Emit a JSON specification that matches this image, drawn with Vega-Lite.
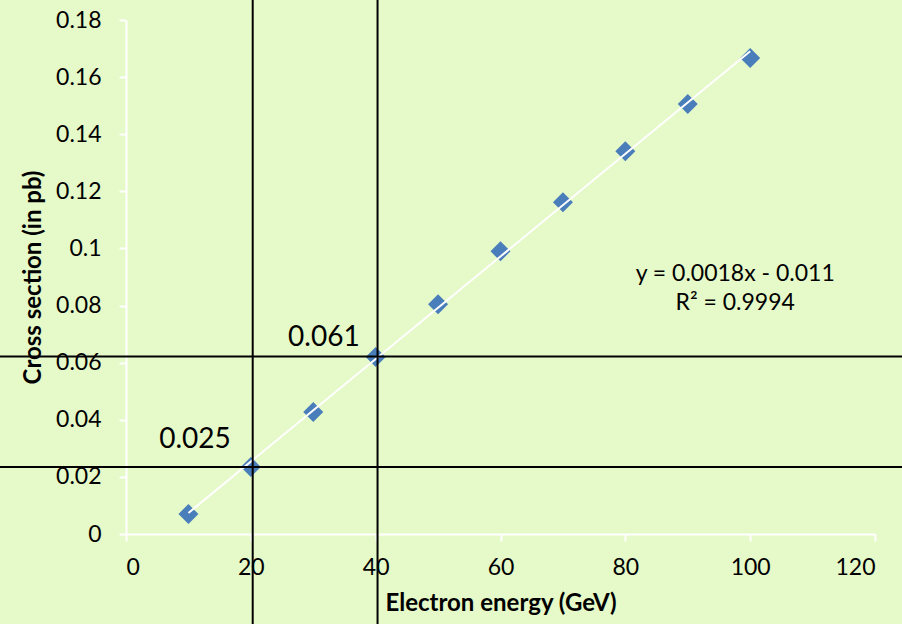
{
  "$schema": "https://vega.github.io/schema/vega-lite/v6.json",
  "autosize": "none",
  "width": 749,
  "height": 514,
  "padding": {"left": 126, "top": 20, "right": 27, "bottom": 90},
  "background": "#e6f9c8",
  "config": {
    "view": {"stroke": null},
    "font": "Lato",
    "axis": {
      "domainColor": "white",
      "domainWidth": 2,
      "tickColor": "white",
      "tickWidth": 2,
      "tickSize": 7,
      "grid": false,
      "labelFont": "Lato",
      "labelFontSize": 23,
      "labelColor": "black",
      "titleFont": "Lato",
      "titleFontSize": 24,
      "titleFontWeight": "bold",
      "titleColor": "black"
    }
  },
  "datasets": {
    "points": [
      {"energy": 10, "cs": 0.0070},
      {"energy": 20, "cs": 0.0235},
      {"energy": 30, "cs": 0.0427},
      {"energy": 40, "cs": 0.0620},
      {"energy": 50, "cs": 0.0805},
      {"energy": 60, "cs": 0.0990},
      {"energy": 70, "cs": 0.1162},
      {"energy": 80, "cs": 0.1340},
      {"energy": 90, "cs": 0.1506},
      {"energy": 100, "cs": 0.1667}
    ],
    "vrules": [
      {"energy": 20.3, "lo": -0.0315, "hi": 0.187},
      {"energy": 40.3, "lo": -0.0315, "hi": 0.187}
    ],
    "hrules": [
      {"cs": 0.0235, "lo": -20.2, "hi": 124.4},
      {"cs": 0.0622, "lo": -20.2, "hi": 124.4}
    ],
    "bigLabels": [
      {"energy": 11.06, "cs": 0.0329, "label": "0.025"},
      {"energy": 31.7, "cs": 0.0686, "label": "0.061"}
    ],
    "eqLabels": [
      {"energy": 97.6, "cs": 0.0910, "label": "y = 0.0018x - 0.011"},
      {"energy": 97.6, "cs": 0.0809, "label": "R² = 0.9994"}
    ]
  },
  "layer": [
    {
      "data": {"name": "points"},
      "mark": {"type": "point", "shape": "diamond", "size": 400, "filled": true, "fill": "#4a7ebb", "opacity": 1, "strokeWidth": 0},
      "encoding": {
        "x": {"field": "energy", "type": "quantitative", "scale": {"domain": [0, 120], "nice": false},
          "axis": {"values": [0, 20, 40, 60, 80, 100, 120], "title": "Electron energy (GeV)", "labelPadding": 15, "titlePadding": 12}},
        "y": {"field": "cs", "type": "quantitative", "scale": {"domain": [0, 0.18], "nice": false},
          "axis": {"values": [0, 0.02, 0.04, 0.06, 0.08, 0.1, 0.12, 0.14, 0.16, 0.18], "format": "~g", "title": "Cross section (in pb)", "labelPadding": 18, "titlePadding": 10}}
      }
    },
    {
      "data": {"name": "points"},
      "transform": [{"regression": "cs", "on": "energy", "method": "linear", "extent": [10, 100]}],
      "mark": {"type": "line", "color": "white", "strokeWidth": 2},
      "encoding": {
        "x": {"field": "energy", "type": "quantitative"},
        "y": {"field": "cs", "type": "quantitative"}
      }
    },
    {
      "data": {"name": "vrules"},
      "mark": {"type": "rule", "color": "black", "strokeWidth": 2, "clip": false},
      "encoding": {
        "x": {"field": "energy", "type": "quantitative"},
        "y": {"field": "lo", "type": "quantitative"},
        "y2": {"field": "hi"}
      }
    },
    {
      "data": {"name": "hrules"},
      "mark": {"type": "rule", "color": "black", "strokeWidth": 2, "clip": false},
      "encoding": {
        "y": {"field": "cs", "type": "quantitative"},
        "x": {"field": "lo", "type": "quantitative"},
        "x2": {"field": "hi"}
      }
    },
    {
      "data": {"name": "bigLabels"},
      "mark": {"type": "text", "fontSize": 28, "font": "Lato", "color": "black", "align": "center", "baseline": "middle"},
      "encoding": {
        "x": {"field": "energy", "type": "quantitative"},
        "y": {"field": "cs", "type": "quantitative"},
        "text": {"field": "label"}
      }
    },
    {
      "data": {"name": "eqLabels"},
      "mark": {"type": "text", "fontSize": 23, "font": "Lato", "color": "black", "align": "center", "baseline": "middle"},
      "encoding": {
        "x": {"field": "energy", "type": "quantitative"},
        "y": {"field": "cs", "type": "quantitative"},
        "text": {"field": "label"}
      }
    }
  ]
}
